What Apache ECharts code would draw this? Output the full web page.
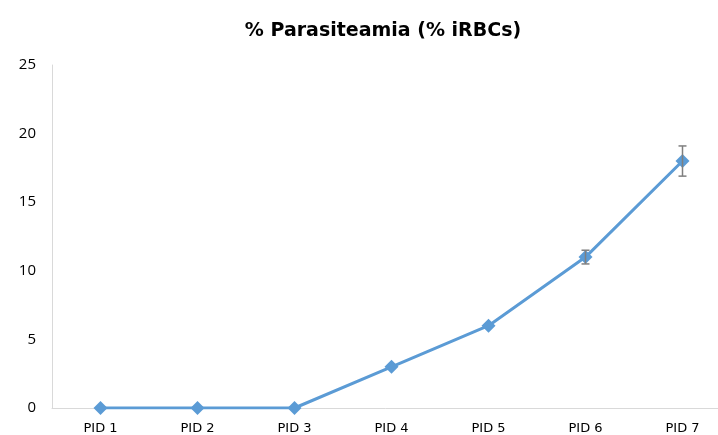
<!DOCTYPE html>
<html lang="en">
<head>
    <meta charset="UTF-8">
    <title>% Parasiteamia</title>
    <script src="https://cdn.jsdelivr.net/npm/echarts@6/dist/echarts.min.js"></script>
    <style>
        html, body { margin: 0; padding: 0; background: #fff; }
        #main { width: 718px; height: 435px; }
    </style>
</head>
<body>
<div id="main"></div>
<script type="text/javascript">
    var categories = ['PID 1', 'PID 2', 'PID 3', 'PID 4', 'PID 5', 'PID 6', 'PID 7'];
    var values = [0, 0, 0, 3, 6, 11, 18];
    var errors = [0, 0, 0, 0, 0, 0.5, 1.1];
    var yTicks = [0, 5, 10, 15, 20, 25];

    var errorData = [];
    for (var i = 0; i < values.length; i++) {
        if (errors[i] > 0) {
            errorData.push([i, values[i] - errors[i], values[i] + errors[i]]);
        }
    }

    var myChart = echarts.init(document.getElementById('main'));
    var option = {
        animation: false,
        title: {
            text: '% Parasiteamia (% iRBCs)',
            left: 378,
            textAlign: 'center',
            top: 17,
            textStyle: {
                fontFamily: 'DejaVu Sans',
                fontSize: 19,
                fontWeight: 'bold',
                color: '#000'
            }
        },
        grid: {
            left: 52,
            width: 679,
            top: 65,
            bottom: 27,
            containLabel: false,
            outerBoundsMode: 'none'
        },
        xAxis: {
            type: 'category',
            data: categories,
            boundaryGap: true,
            axisLine: { show: true, lineStyle: { color: '#d9d9d9', width: 1 } },
            axisTick: { show: false },
            axisLabel: {
                color: '#000',
                fontFamily: 'DejaVu Sans',
                fontSize: 13,
                margin: 14
            }
        },
        yAxis: {
            type: 'value',
            min: yTicks[0],
            max: yTicks[yTicks.length - 1],
            interval: 5,
            axisLine: { show: true, lineStyle: { color: '#d9d9d9', width: 1 } },
            axisTick: { show: false },
            splitLine: { show: false },
            axisLabel: {
                color: '#000',
                fontFamily: 'Open Sans',
                fontSize: 15,
                margin: 16
            }
        },
        series: [
            {
                name: 'Parasiteamia',
                type: 'line',
                data: values,
                symbol: 'diamond',
                symbolSize: 14,
                lineStyle: { color: '#5b9bd5', width: 3 },
                itemStyle: { color: '#5b9bd5' },
                z: 3
            },
            {
                name: 'error',
                type: 'custom',
                data: errorData,
                z: 4,
                renderItem: function (params, api) {
                    var x = api.value(0);
                    var lo = api.coord([x, api.value(1)]);
                    var hi = api.coord([x, api.value(2)]);
                    var w = 4;
                    var style = { stroke: '#7f7f7f', lineWidth: 1.5 };
                    return {
                        type: 'group',
                        children: [
                            { type: 'line', shape: { x1: lo[0], y1: lo[1], x2: hi[0], y2: hi[1] }, style: style },
                            { type: 'line', shape: { x1: lo[0] - w, y1: lo[1], x2: lo[0] + w, y2: lo[1] }, style: style },
                            { type: 'line', shape: { x1: hi[0] - w, y1: hi[1], x2: hi[0] + w, y2: hi[1] }, style: style }
                        ]
                    };
                }
            }
        ]
    };
    myChart.setOption(option);
</script>
</body>
</html>
